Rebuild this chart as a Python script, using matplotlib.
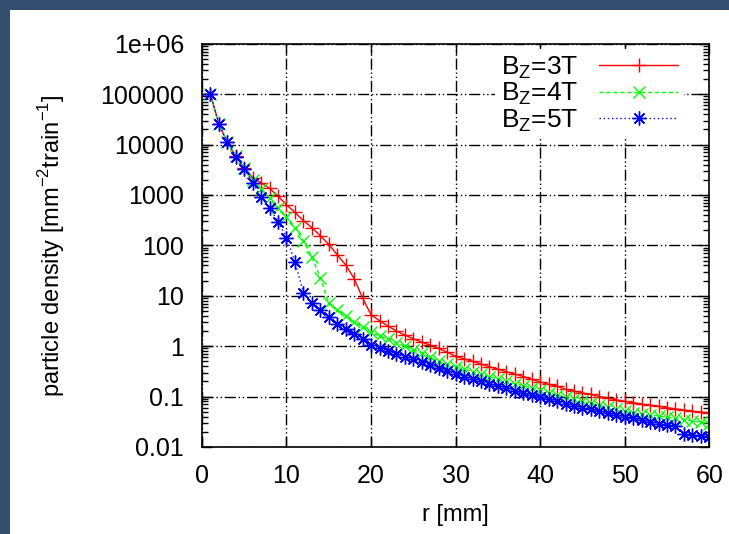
import matplotlib
matplotlib.use('Agg')
import matplotlib.pyplot as plt
from matplotlib.patches import Rectangle

plt.rcParams['font.family'] = ['Liberation Sans', 'DejaVu Sans']

# radius [mm]
r = list(range(1, 61))

# B_z = 3T
dens_3t = [100000, 26000, 11000, 5900, 3500, 2200, 1750, 1350, 950, 640,
           450, 310, 225, 155, 105, 65, 41, 22, 9.0, 4.2,
           3.2, 2.5, 2.0, 1.65, 1.4, 1.2, 1.05, 0.9, 0.76, 0.63,
           0.56, 0.5, 0.44, 0.39, 0.35, 0.31, 0.28, 0.25, 0.22, 0.195,
           0.175, 0.16, 0.14, 0.128, 0.118, 0.11, 0.1, 0.093, 0.086, 0.08,
           0.076, 0.071, 0.067, 0.064, 0.06, 0.057, 0.054, 0.051, 0.049, 0.047]

# B_z = 4T
dens_4t = [100000, 26000, 11000, 5900, 3400, 2000, 1300, 870, 560, 370,
           225, 123, 59, 23, 7.3, 5.3, 4.0, 3.0, 2.4, 1.9,
           1.6, 1.38, 1.18, 1.0, 0.85, 0.72, 0.6, 0.5, 0.44, 0.39,
           0.35, 0.31, 0.28, 0.25, 0.225, 0.2, 0.18, 0.165, 0.148, 0.133,
           0.12, 0.108, 0.097, 0.088, 0.08, 0.074, 0.067, 0.062, 0.056, 0.051,
           0.048, 0.045, 0.043, 0.041, 0.039, 0.037, 0.035, 0.033, 0.031, 0.029]

# B_z = 5T
dens_5t = [100000, 26000, 11000, 5800, 3300, 1750, 910, 560, 295, 142,
           47, 11.5, 7.2, 5.2, 3.8, 2.8, 2.2, 1.75, 1.4, 1.07,
           0.92, 0.8, 0.7, 0.62, 0.55, 0.48, 0.42, 0.37, 0.32, 0.28,
           0.25, 0.225, 0.2, 0.18, 0.16, 0.145, 0.13, 0.117, 0.105, 0.096,
           0.088, 0.08, 0.072, 0.065, 0.06, 0.056, 0.052, 0.048, 0.044, 0.04,
           0.037, 0.034, 0.031, 0.029, 0.027, 0.026, 0.018, 0.017, 0.0168, 0.016]

x_ticks = [0, 10, 20, 30, 40, 50, 60]
y_ticks = [0.01, 0.1, 1, 10, 100, 1000, 10000, 100000, 1000000]
y_labels = ['0.01', '0.1', '1', '10', '100', '1000', '10000', '100000', '1e+06']

fig = plt.figure(figsize=(7.29, 5.34), dpi=100)
fig.patch.set_facecolor('#324d6e')
fig.add_artist(Rectangle((10 / 729, 0), 1, 1 - 10 / 534, transform=fig.transFigure,
                         facecolor='white', edgecolor='none', zorder=0))

ax = fig.add_axes([0.277, 0.163, 0.696, 0.755])
ax.set_yscale('log')

ax.plot(r, dens_3t, color='#ff0000', lw=1, ls='-', marker='+', ms=10, mew=1,
        label='B$_\\mathregular{Z}$=3T')
ax.plot(r, dens_4t, color='#00ff00', lw=1, ls=(0, (3, 2)), marker='x', ms=8, mew=1,
        label='B$_\\mathregular{Z}$=4T')
ax.plot(r, dens_5t, color='#0000ff', lw=1, ls=(0, (1, 2)), marker=(8, 2, 0), ms=10, mew=1,
        label='B$_\\mathregular{Z}$=5T')

ax.set_xlim(0, 60)
ax.set_ylim(0.01, 1e6)
ax.set_xticks(x_ticks)
ax.set_yticks(y_ticks)
ax.set_yticklabels(y_labels)
ax.tick_params(which='both', direction='in', top=True, right=True, labelsize=18)
ax.tick_params(which='major', length=7, width=1)
ax.tick_params(which='minor', length=4, width=1)
ax.tick_params(axis='x', pad=12)
ax.tick_params(axis='y', pad=13)

ax.grid(True, which='major', color='black', lw=1, ls=(0, (8, 2, 1, 2, 1, 2)))
for s in ax.spines.values():
    s.set_linewidth(1.2)

ax.set_xlabel('r [mm]', fontsize=17, labelpad=12)
ax.set_ylabel('particle density [mm$^\\mathregular{-2}$train$^\\mathregular{-1}$]',
              fontsize=17, labelpad=24)

leg = ax.legend(loc='upper right', markerfirst=False, frameon=True, fontsize=19,
                handlelength=3.0, handletextpad=0.8, labelspacing=0.0,
                borderaxespad=0.2, borderpad=0.2, bbox_to_anchor=(0.96, 1.0),
                fancybox=False, framealpha=1, edgecolor='none', facecolor='white')
for t in leg.get_texts():
    t.set_ha('right')

fig.savefig('out.png', dpi=100, facecolor=fig.get_facecolor())
